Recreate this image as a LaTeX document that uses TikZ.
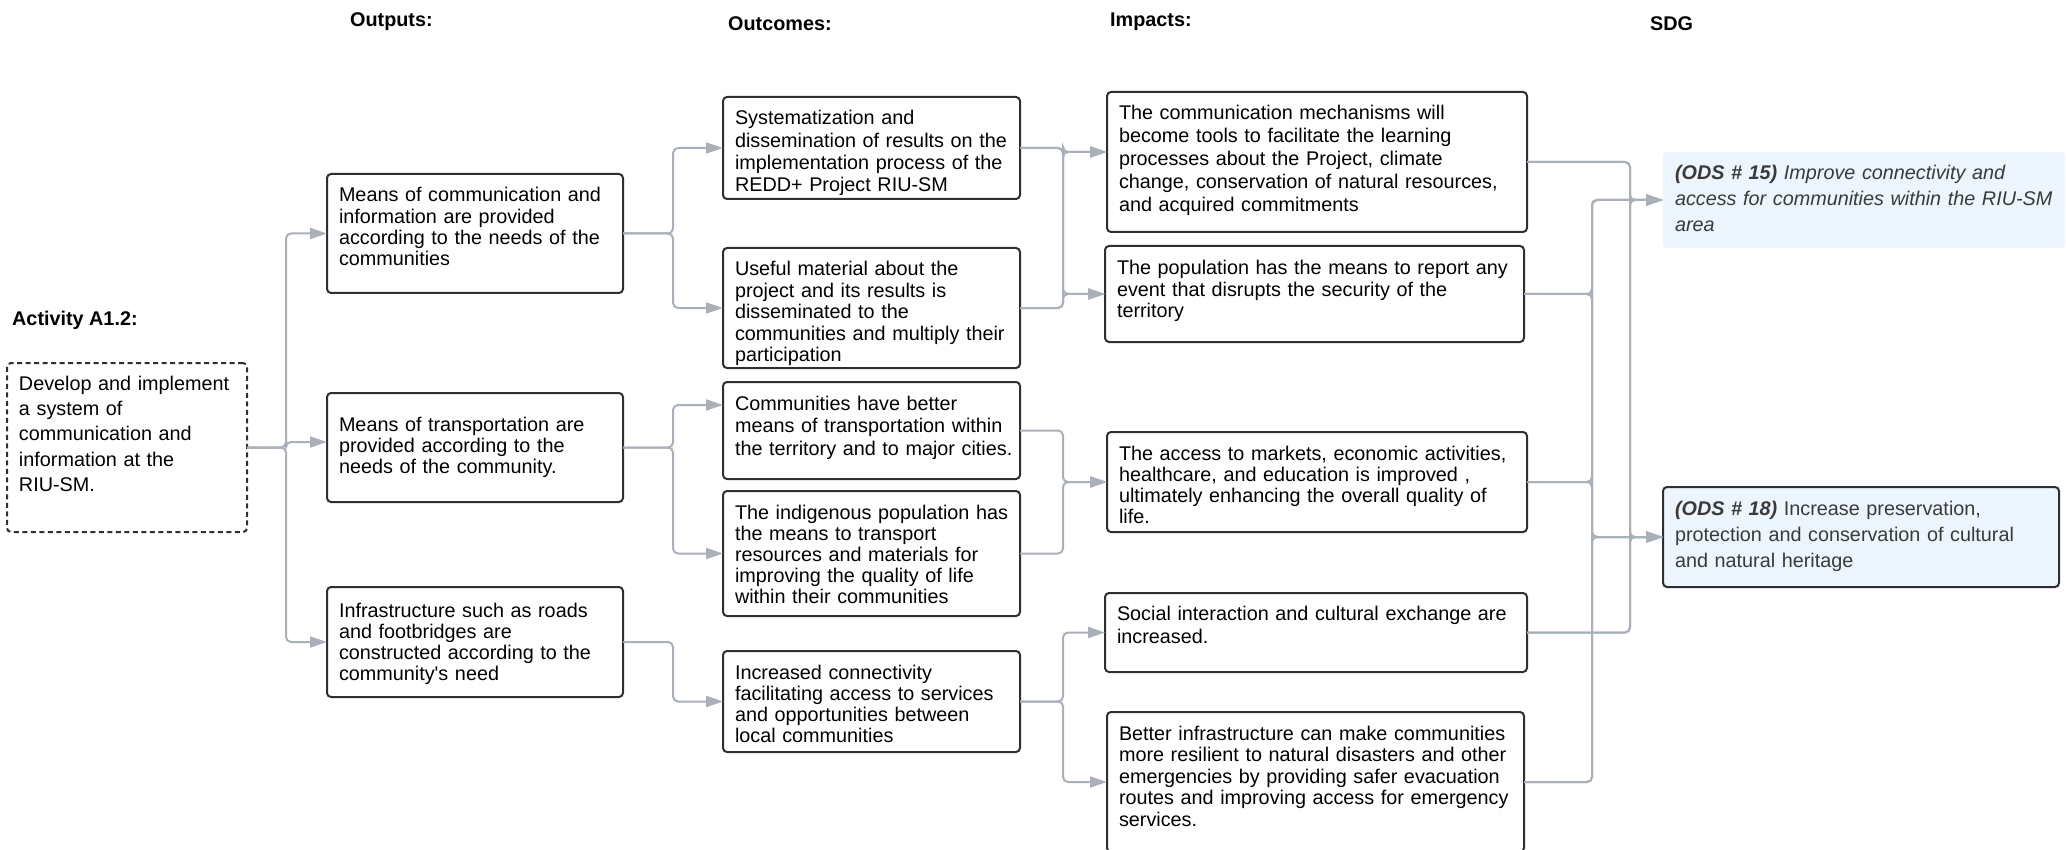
\documentclass[tikz,border=0pt]{standalone}
\usepackage{fontspec}
\setmainfont{Liberation Sans}
\usetikzlibrary{arrows.meta}
\definecolor{lgray}{HTML}{AAB0BA}
\definecolor{bdark}{HTML}{2D2F33}
\definecolor{sdgfill}{HTML}{EDF5FF}
\definecolor{sdgtext}{HTML}{3A3A3A}
\tikzset{
 boxs/.style={draw=bdark, line width=2pt, rounded corners=4pt, rectangle, anchor=north west, inner sep=0pt, outer sep=0pt},
 txt/.style={anchor=base west, inner sep=0pt, outer sep=0pt, text width=480pt, align=left, text=black},
 hdr/.style={anchor=base west, inner sep=0pt, font=\fontsize{19.8}{24}\selectfont\bfseries},
 conn/.style={draw=lgray, line width=2pt, rounded corners=5pt, -{Triangle[length=17pt,width=11pt]}},
}
\newcommand\mkbox[9]{%
  \node[boxs,#8,minimum width=#4,minimum height=#5] (#1) at (#2,#3) {};
  \node[txt,font=\fontsize{19.8}{#7}\selectfont] (#1t) at ([shift={(12,#6)}]#1.north west) {#9};
}
\begin{document}
\begin{tikzpicture}[x=1pt,y=-1pt]
\useasboundingbox (0,0) rectangle (2066,850);
\clip (0,0) rectangle (2066,850);
% headers
\node[hdr] (hout) at (350,27) {Outputs:};
\node[hdr] (hoc) at (728,31) {Outcomes:};
\node[hdr] (him) at (1110,27) {Impacts:};
\node[hdr] (hsdg) at (1650,31) {SDG};
\node[hdr] (hact) at (12,325) {Activity A1.2:};
% activity
\mkbox{act}{7}{363}{240}{169}{27}{25.4}{dashed,dash pattern=on 5pt off 3.5pt}{Develop and implement\\a system of\\communication and\\information at the\\RIU-SM.}
% outputs
\mkbox{o1}{327}{174}{296}{119}{28}{21.3}{}{Means of communication and\\information are provided\\according to the needs of the\\communities}
\mkbox{o2}{327}{393}{296}{109}{38}{21.3}{}{Means of transportation are\\provided according to the\\needs of the community.}
\mkbox{o3}{327}{587}{296}{110}{30}{21.1}{}{Infrastructure such as roads\\and footbridges are\\constructed according to the\\community\textquotesingle s need}
% outcomes
\mkbox{c1}{723}{97}{297}{102}{28}{22.3}{}{Systematization and\\dissemination of results on the\\implementation process of the\\REDD+ Project RIU-SM}
\mkbox{c2}{723}{248}{297}{120}{28}{21.5}{}{Useful material about the\\project and its results is\\disseminated to the\\communities and multiply their\\participation}
\mkbox{c3}{723}{382}{297}{97}{28}{22.8}{}{Communities have better\\means of transportation within\\the territory and to major cities.}
\mkbox{c4}{723}{491}{297}{125}{28}{21.2}{}{The indigenous population has\\the means to transport\\resources and materials for\\improving the quality of life\\within their communities}
\mkbox{c5}{723}{651}{297}{101}{28}{21.3}{}{Increased connectivity\\facilitating access to services\\and opportunities between\\local communities}
% impacts
\mkbox{i1}{1107}{92}{420}{140}{28}{22.8}{}{The communication mechanisms will\\become tools to facilitate the learning\\processes about the Project, climate\\change, conservation of natural resources,\\and acquired commitments}
\mkbox{i2}{1105}{246}{419}{96}{29}{21.5}{}{The population has the means to report any\\event that disrupts the security of the\\territory}
\mkbox{i3}{1107}{432}{420}{100}{28}{21.3}{}{The access to markets, economic activities,\\healthcare, and education is improved ,\\ultimately enhancing the overall quality of\\life.}
\mkbox{i4}{1105}{593}{422}{79}{27}{23.5}{}{Social interaction and cultural exchange are\\increased.}
\mkbox{i5}{1107}{712}{417}{140}{28}{21.5}{}{Better infrastructure can make communities\\more resilient to natural disasters and other\\emergencies by providing safer evacuation\\routes and improving access for emergency\\services.}
% SDG
\mkbox{s1}{1663}{152}{402}{96}{28}{26}{draw=none,fill=sdgfill}{\color{sdgtext}\itshape\textbf{(ODS \# 15)} Improve connectivity and\\access for communities within the RIU-SM\\area}
\mkbox{s2}{1663}{487}{396}{100}{28}{26}{fill=sdgfill}{\color{sdgtext}\textbf{\textit{(ODS \# 18)}} Increase preservation,\\protection and conservation of cultural\\and natural heritage}
% bus coordinates
\coordinate (busA) at (286,0);
\coordinate (busB) at (673,0);
\coordinate (busC) at (1063,0);
\coordinate (busD) at (1592,0);
\coordinate (busE) at (1630,0);
% activity -> outputs
\draw[conn] (act.east) -- (act.east -| busA) |- (o1.west);
\draw[conn] (act.east) -- (act.east -| busA) |- ([yshift=5.5pt]o2.west);
\draw[conn] (act.east) -- (act.east -| busA) |- (o3.west);
% outputs -> outcomes
\draw[conn] (o1.east) -- (o1.east -| busB) |- (c1.west);
\draw[conn] (o1.east) -- (o1.east -| busB) |- (c2.west);
\draw[conn] (o2.east) -- (o2.east -| busB) |- ([yshift=25.5pt]c3.west);
\draw[conn] (o2.east) -- (o2.east -| busB) |- (c4.west);
\draw[conn] (o3.east) -- (o3.east -| busB) |- (c5.west);
% outcomes -> impacts
\draw[conn] (c1.east) -- (c1.east -| busC) |- ([yshift=10pt]i1.west);
\draw[conn] (c1.east) -- (c1.east -| busC) |- (i2.west);
\draw[conn] (c2.east) -- (c2.east -| busC) |- ([yshift=10pt]i1.west);
\draw[conn] (c2.east) -- (c2.east -| busC) |- (i2.west);
\draw[conn] (c3.east) -- (c3.east -| busC) |- (i3.west);
\draw[conn] (c4.east) -- (c4.east -| busC) |- (i3.west);
\draw[conn] (c5.east) -- (c5.east -| busC) |- (i4.west);
\draw[conn] (c5.east) -- (c5.east -| busC) |- (i5.west);
% impacts -> SDG
\draw[conn] (i1.east) -- (i1.east -| busE) |- (s1.west);
\draw[conn] (i1.east) -- (i1.east -| busE) |- (s2.west);
\draw[conn] (i4.east) -- (i4.east -| busE) |- (s1.west);
\draw[conn] (i4.east) -- (i4.east -| busE) |- (s2.west);
\draw[conn] (i2.east) -- (i2.east -| busD) |- (s1.west);
\draw[conn] (i2.east) -- (i2.east -| busD) |- (s2.west);
\draw[conn] (i3.east) -- (i3.east -| busD) |- (s1.west);
\draw[conn] (i3.east) -- (i3.east -| busD) |- (s2.west);
\draw[conn] (i5.east) -- (i5.east -| busD) |- (s1.west);
\draw[conn] (i5.east) -- (i5.east -| busD) |- (s2.west);
\end{tikzpicture}
\end{document}
